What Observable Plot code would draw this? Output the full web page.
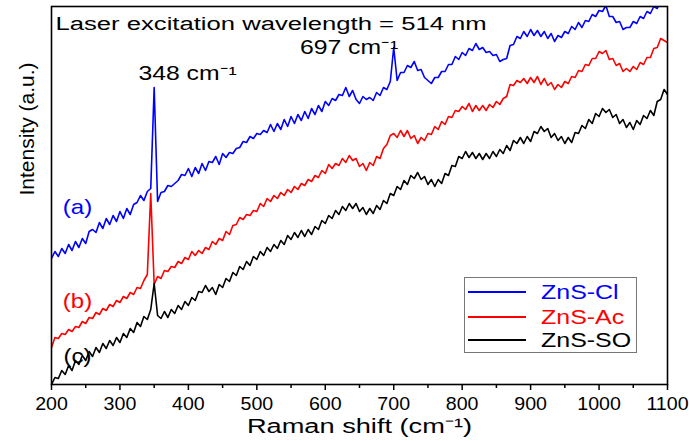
<!DOCTYPE html>
<html><head><meta charset="utf-8">
<script src="https://cdn.jsdelivr.net/npm/d3@7"></script>
<script src="https://cdn.jsdelivr.net/npm/@observablehq/plot@0.6"></script>
<style>
body{margin:0;background:#fff;}
#wrap{position:relative;width:689px;height:441px;font-family:"Liberation Sans",Arial,sans-serif;}
#legend{position:absolute;left:464px;top:277px;width:173px;height:76px;border:1px solid #777;box-sizing:border-box;background:#fff;}
#legend .row{position:absolute;left:0;width:170px;height:24px;}
#legend .sw{position:absolute;left:3px;top:11px;width:58px;height:2px;}
#legend .lb{position:absolute;left:76px;top:0;line-height:24px;font-size:19.5px;white-space:nowrap;transform:scaleX(1.28);transform-origin:0 50%;}
</style></head>
<body><div id="wrap"></div>
<script>
// Raman shift grid (cm^-1)
const ramanShift = [
200,205,210,215,220,225,230,235,240,245,250,255,260,265,270,275,280,285,290,295,
300,305,310,315,320,325,330,335,340,345,350,355,360,365,370,375,380,385,390,395,
400,405,410,415,420,425,430,435,440,445,450,455,460,465,470,475,480,485,490,495,
500,505,510,515,520,525,530,535,540,545,550,555,560,565,570,575,580,585,590,595,
600,605,610,615,620,625,630,635,640,645,650,655,660,665,670,675,680,685,690,695,
700,705,710,715,720,725,730,735,740,745,750,755,760,765,770,775,780,785,790,795,
800,805,810,815,820,825,830,835,840,845,850,855,860,865,870,875,880,885,890,895,
900,905,910,915,920,925,930,935,940,945,950,955,960,965,970,975,980,985,990,995,
1000,1005,1010,1015,1020,1025,1030,1035,1040,1045,1050,1055,1060,1065,1070,1075,1080,1085,1090,1095,
1100];

// Intensities (a.u., offset-stacked as in the figure)
const znsCl = [
126,133,128,136,131,140,134,143,137,146, 141,153,155,152,162,156,166,160,169,163,
173,166,176,170,180,182,189,184,193,196, 297,183,192,193,199,198,201,204,210,209,
216,208,217,211,221,214,223,222,228,220, 231,227,232,231,236,237,243,242,248,246,
251,250,254,252,260,253,261,255,265,258, 268,261,270,264,273,266,276,270,279,273,
283,279,286,284,290,289,297,288,294,285, 281,288,285,287,284,292,289,297,295,303,
337,304,312,312,319,317,323,314,315,307, 304,301,307,307,313,313,320,320,328,325,
332,329,336,334,341,335,337,332,333,329, 330,323,325,326,339,340,348,346,353,348,
355,349,354,348,353,346,351,343,349,347, 353,351,358,355,362,357,364,363,370,368,
374,373,379,368,368,362,363,355,357,357, 363,361,368,366,373,371,378,376,383,381,
386];
const znsAc = [
37,47,46,51,50,55,53,58,57,63, 61,67,66,72,70,76,74,80,78,84,
82,88,86,92,90,97,96,104,110,191, 100,108,106,114,113,118,117,123,121,127,
125,133,129,134,131,137,135,143,140,146, 144,153,150,159,160,167,165,170,169,174,
173,181,178,186,183,189,186,192,189,195, 192,198,195,201,199,205,203,209,207,214,
211,220,216,221,219,226,222,229,224,226, 218,221,214,222,219,228,226,236,240,249,
251,247,254,248,254,246,249,241,247,244, 251,250,258,255,263,260,268,267,274,273,
278,275,281,273,279,274,279,274,280,277, 283,280,286,288,300,299,304,302,306,301,
307,302,308,300,306,299,302,295,300,297, 303,301,308,307,314,313,320,319,326,326,
333,331,334,325,326,319,321,313,316,313, 318,315,322,320,327,327,336,337,346,344,
342];
const znsSO = [
0,7,6,14,10,19,14,24,20,29, 24,33,28,37,32,41,36,44,39,47,
42,51,47,56,52,62,58,68,65,75, 101,69,66,73,67,75,71,79,75,83,
79,87,84,93,92,99,93,97,90,100, 97,106,103,112,109,118,115,123,119,128,
125,133,129,137,133,140,136,144,140,149, 145,152,147,154,148,155,150,158,155,164,
161,169,166,174,170,178,174,181,176,181, 173,177,170,176,171,179,175,184,181,191,
189,198,195,204,200,209,206,212,205,208, 200,205,198,205,201,211,209,219,218,228,
226,233,227,232,226,231,225,231,226,233, 228,235,231,239,234,244,241,247,241,248,
243,253,251,258,253,256,247,251,244,248, 241,247,242,252,251,259,256,265,261,271,
268,276,272,275,267,270,261,265,257,262, 255,264,260,269,266,274,269,283,285,295,
290];

const seriesNames = ["ZnS-Cl", "ZnS-Ac", "ZnS-SO"];
const seriesColors = ["#0000ff", "#ff0000", "#000000"];
const seriesTags = ["(a)", "(b)", "(c)"];
const tagX = [238, 238, 238];
const tagY = [177, 83, 28];
const majorTicks = [200,300,400,500,600,700,800,900,1000,1100];
const minorTicks = [250,350,450,550,650,750,850,950,1050];
const peakText = ["348 cm\u207B\u00B9", "697 cm\u207B\u00B9"];
const peakTextX = [327, 563];
const peakTextY = [305, 331];
const titleText = "Laser excitation wavelength = 514 nm";
const xTitle = "Raman shift (cm\u207B\u00B9)";
const yTitle = "Intensity (a.u.)";

const seriesValues = [znsCl, znsAc, znsSO];
const rows = [];
seriesValues.forEach((vals, s) => vals.forEach((v, i) => rows.push({series: seriesNames[s], shift: ramanShift[i], value: v})));
const tags = seriesTags.map((t, i) => ({t, x: tagX[i], y: tagY[i], c: seriesColors[i]}));
const peaks = peakText.map((t, i) => ({t, x: peakTextX[i], y: peakTextY[i]}));

const FONT = '"Liberation Sans", Arial, sans-serif';
const chart = Plot.plot({
  width: 689, height: 441,
  marginLeft: 51, marginRight: 22, marginTop: 6, marginBottom: 57,
  style: {fontFamily: FONT, background: "white", color: "black", overflow: "visible"},
  x: {domain: [200, 1100]},
  y: {domain: [0, 378], axis: null},
  color: {domain: seriesNames, range: seriesColors},
  marks: [
    Plot.line(rows, {x: "shift", y: "value", z: "series", stroke: "series", strokeWidth: 1.6, clip: true}),
    Plot.frame({stroke: "black", strokeWidth: 1.6}),
    Plot.axisX({ticks: majorTicks, tickSize: 6, tickPadding: 7, strokeWidth: 1.5, fontSize: 18, label: null, tickFormat: d => `${d}`}),
    Plot.axisX({ticks: minorTicks, tickSize: 4, strokeWidth: 1.5, tickFormat: () => "", label: null}),
    Plot.text([xTitle], {text: d => d, frameAnchor: "bottom", dy: 48, lineAnchor: "bottom", fontSize: 20}),
    Plot.text([yTitle], {text: d => d, frameAnchor: "left", dx: -24, rotate: -90, fontSize: 21}),
    Plot.text([titleText], {text: d => d, frameAnchor: "top-left", dx: 4, dy: 23, lineAnchor: "bottom", textAnchor: "start", fontSize: 19}),
    Plot.text(peaks, {x: "x", y: "y", text: "t", textAnchor: "start", lineAnchor: "bottom", fontSize: 19.5}),
    Plot.text(tags, {x: "x", y: "y", text: "t", fill: "c", fontSize: 20})
  ]
});
const wrap = document.getElementById("wrap");
wrap.appendChild(chart);

// the reference's lettering is horizontally stretched: widen each text about its anchor
const stretch = new Map([
  [titleText, 1.35], [xTitle, 1.36], [peakText[0], 1.27], [peakText[1], 1.27],
  ["(a)", 1.2], ["(b)", 1.2], ["(c)", 1.2]
]);
d3.select(chart).selectAll("text").each(function () {
  const t = this.textContent;
  let s = stretch.get(t);
  if (s === undefined && /^\d+$/.test(t)) s = 1.09;
  if (s === undefined) return;
  const tr = this.getAttribute("transform");
  if (tr) {
    this.setAttribute("transform", `${tr} scale(${s},1)`);
  } else {
    const x = +this.getAttribute("x") || 0, y = +this.getAttribute("y") || 0;
    this.setAttribute("transform", `translate(${x},${y}) scale(${s},1) translate(${-x},${-y})`);
  }
});

// Legend (inside the plot frame, lower right)
const legend = document.createElement("div");
legend.id = "legend";
const rowTops = [2, 27, 50];
seriesNames.forEach((n, i) => {
  const r = document.createElement("div");
  r.className = "row";
  r.style.top = rowTops[i] + "px";
  const sw = document.createElement("div");
  sw.className = "sw";
  sw.style.background = seriesColors[i];
  const lb = document.createElement("span");
  lb.className = "lb";
  lb.style.color = seriesColors[i];
  lb.textContent = n;
  r.appendChild(sw); r.appendChild(lb);
  legend.appendChild(r);
});
wrap.appendChild(legend);
</script></body></html>
